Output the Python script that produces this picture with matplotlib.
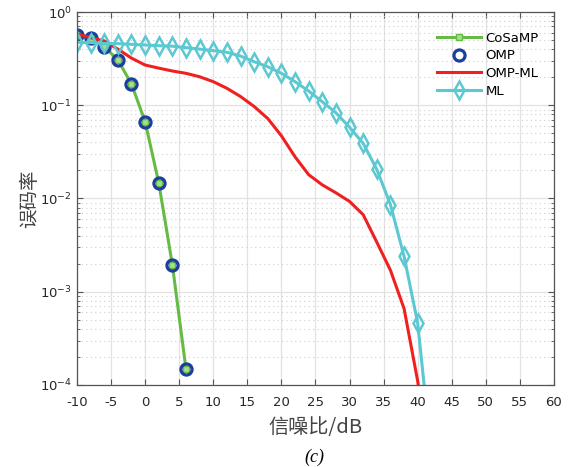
import matplotlib
matplotlib.use('Agg')
import matplotlib.pyplot as plt
import numpy as np

plt.rcParams['font.family'] = ['DejaVu Sans', 'Noto Sans CJK SC']
plt.rcParams['axes.unicode_minus'] = False

# SNR axis (dB)
snr_cs = [-10, -8, -6, -4, -2, 0, 2, 4, 6]
cosamp_ber = [0.567, 0.52, 0.425, 0.306, 0.169, 0.0667, 0.0147, 0.00194, 0.000147]
omp_ber = [0.567, 0.52, 0.425, 0.306, 0.169, 0.0667, 0.0147, 0.00194, 0.000147]

snr_ml = [-10, -8, -6, -4, -2, 0, 2, 4, 6, 8, 10, 12, 14, 16, 18, 20, 22,
          24, 26, 28, 30, 32, 34, 36, 38, 40, 42]
ompml_ber = [0.58, 0.53, 0.49, 0.40, 0.32, 0.27, 0.25, 0.233, 0.22, 0.202,
             0.179, 0.152, 0.124, 0.097, 0.072, 0.047, 0.028, 0.018, 0.014,
             0.0115, 0.0093, 0.0067, 0.0034, 0.0017, 0.00066, 0.00011, 0.00001]
ml_ber = [0.473, 0.47, 0.46, 0.458, 0.45, 0.443, 0.435, 0.43, 0.415, 0.40,
          0.385, 0.37, 0.337, 0.293, 0.259, 0.22, 0.179, 0.142, 0.109, 0.083,
          0.058, 0.039, 0.0205, 0.0086, 0.0024, 0.00046, 0.000018]

fig = plt.figure(figsize=(5.69, 4.67), dpi=100)
ax = fig.add_axes([0.1353, 0.1756, 0.8383, 0.7987])

ax.plot(snr_cs, cosamp_ber, '-s', color='#66bb44', lw=2.2, ms=4.5,
        mfc='#a6e08a', mec='#66bb44', label='CoSaMP')
ax.plot(snr_cs, omp_ber, 'o', color='#1c3f9e', ms=8, mfc='none', mew=2.3,
        label='OMP')
ax.plot(snr_ml, ompml_ber, '-', color='#f02020', lw=2.2, label='OMP-ML')
ax.plot(snr_ml, ml_ber, '-d', color='#5cc8d2', lw=2.2, ms=9, mfc='none',
        mew=1.8, label='ML')

ax.set_yscale('log')
ax.set_xlim(-10, 60)
ax.set_ylim(1e-4, 1)
ax.set_xticks(np.arange(-10, 61, 5))

ax.grid(True, which='major', color='#e2e2e2', lw=0.9)
ax.grid(True, which='minor', axis='y', color='#cfcfcf', lw=0.8, linestyle=(0, (1, 3)))
ax.set_axisbelow(True)

for s in ax.spines.values():
    s.set_color('#555555')
    s.set_linewidth(0.9)
ax.tick_params(which='both', direction='in', top=True, right=True,
               colors='#555555', labelcolor='#262626', labelsize=9.5)
ax.tick_params(which='major', length=4)
ax.tick_params(which='minor', length=2)
ax.tick_params(axis='x', pad=8)

ax.set_xlabel('信噪比/dB', fontsize=14.5, color='#444444',
              family=['Noto Sans CJK SC', 'DejaVu Sans'], labelpad=6)
ax.set_ylabel('误码率', fontsize=14, color='#444444',
              family=['Noto Sans CJK SC', 'DejaVu Sans'], labelpad=0)

ax.legend(loc='upper left', bbox_to_anchor=(0.74, 0.965), frameon=False,
          fontsize=9.5, handlelength=3.4, handletextpad=0.3, labelspacing=0.35,
          borderpad=0)

fig.text(0.553, 0.021, '(c)', fontsize=13, family='Liberation Serif',
         fontstyle='italic', ha='center', va='center')

plt.savefig('out.png', dpi=100)
